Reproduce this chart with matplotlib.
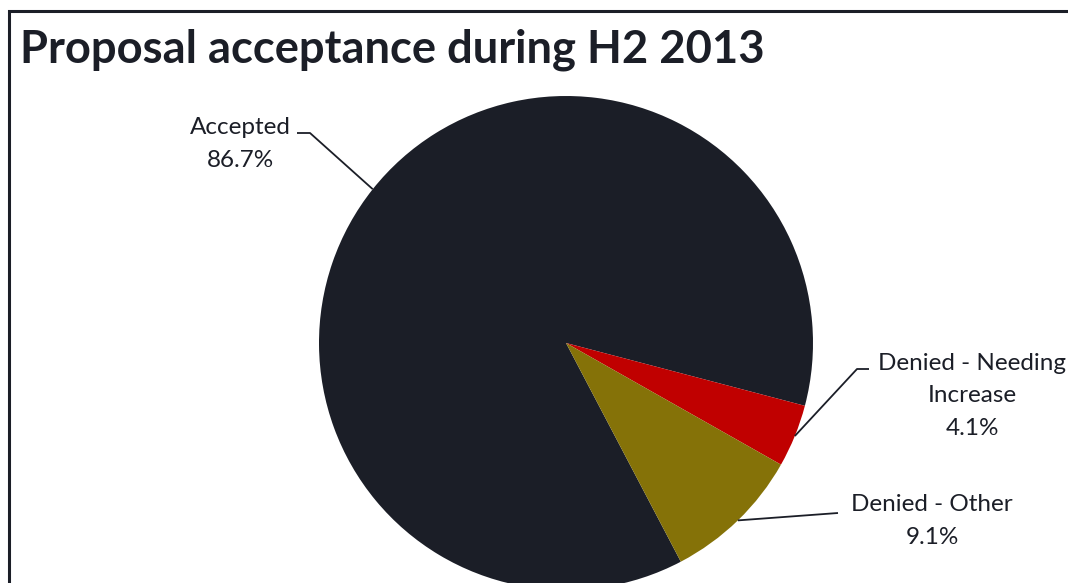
import numpy as np
import matplotlib.pyplot as plt

# proposal outcomes, H2 2013
labels = ["Accepted", "Denied - Needing\nIncrease", "Denied - Other"]
shares = [86.7, 4.1, 9.1]
colors = ["#1b1e27", "#c00000", "#857208"]

plt.rcParams['font.family'] = ['Lato', 'DejaVu Sans']

W, H = 1068, 583
fig = plt.figure(figsize=(W / 100, H / 100), dpi=100)
ax = fig.add_axes([0, 0, 1, 1])

cx, cy, R = 566, 240, 247
wedges, _ = ax.pie(shares, colors=colors, startangle=-62.3, counterclock=False,
                   center=(cx, cy), radius=R, frame=True,
                   wedgeprops=dict(linewidth=0))
ax.set_xlim(0, W)
ax.set_ylim(0, H)
ax.axis('off')

# label text position, elbow point and end of leader line for each slice
label_pos = [(240, 439), (972, 187), (932, 62)]
elbows = [(310, 450), (857, 214), None]
ends = [(297, 450), (869, 214), (838, 70)]

for w, lab, v, tp, el, en in zip(wedges, labels, shares, label_pos, elbows, ends):
    mid = np.deg2rad((w.theta1 + w.theta2) / 2)
    ax0 = cx + R * np.cos(mid)
    ay0 = cy + R * np.sin(mid)
    xs = [ax0] + ([el[0]] if el else []) + [en[0]]
    ys = [ay0] + ([el[1]] if el else []) + [en[1]]
    ax.plot(xs, ys, color="#1b1e27", lw=1.3, solid_capstyle='butt')
    ax.text(tp[0], tp[1], f"{lab}\n{v:.1f}%", ha='center', va='center',
            fontsize=17.5, color="#1b1e27", linespacing=1.7)

ax.text(20, 533, "Proposal acceptance during H2 2013", fontsize=32.7,
        fontweight='bold', color="#1b1e27", ha='left', va='center')

# outer frame (open on the right and bottom)
ax.plot([9, 9, W + 5], [-5, 572, 572], color="#1b1e27", lw=2.2,
        solid_joinstyle='miter')

fig.savefig("out.png", dpi=100)
